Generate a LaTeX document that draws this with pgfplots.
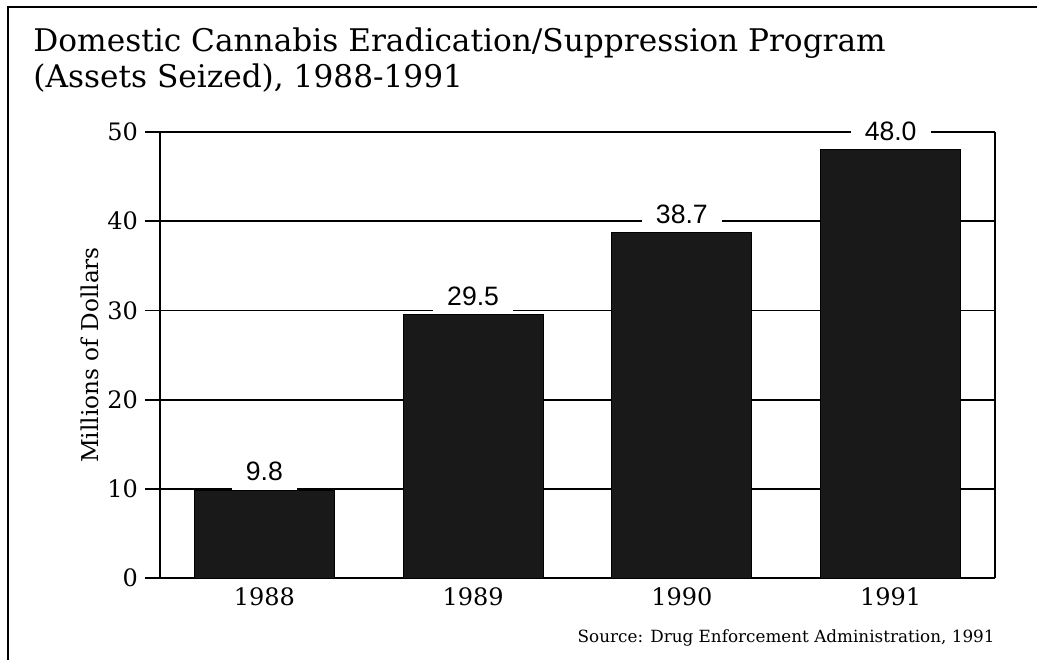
\documentclass[border=0pt]{standalone}
\usepackage{fontspec}
\setmainfont{DejaVu Serif}
\newfontfamily\valfont{Liberation Sans}
\usepackage{pgfplots}
\pgfplotsset{compat=1.18}

% 1 px of the reference = 0.5pt
\pgfplotstableread{
x year value
0 1988 9.8
1 1989 29.5
2 1990 38.7
3 1991 48.0
}\seized

\begin{document}
\begin{tikzpicture}
\path[use as bounding box] (0,0) rectangle (518.5pt,330pt);
% outer frame (top and left only)
\draw[line width=1pt] (4pt,0) -- (4pt,326.5pt) -- (518.5pt,326.5pt);
% title
\node[anchor=base west, inner sep=0pt, font=\fontsize{15.6}{18}\selectfont] at (16.5pt,304pt)
  {Domestic Cannabis Eradication/Suppression Program};
\node[anchor=base west, inner sep=0pt, font=\fontsize{15.6}{18}\selectfont] at (16.5pt,286pt)
  {(Assets Seized), 1988-1991};

\begin{axis}[
    at={(80pt,41pt)}, anchor=south west,
    scale only axis,
    width=417.5pt, height=223pt,
    xmin=-0.5, xmax=3.5,
    ymin=0, ymax=50,
    axis x line*=bottom,
    axis y line*=left,
    axis line style={line width=0.9pt},
    xtick=data,
    xticklabels={1988,1989,1990,1991},
    x tick style={draw=none},
    xticklabel style={yshift=6pt},
    ytick={0,10,20,30,40,50},
    tick align=outside,
    major tick length=7.5pt,
    y tick style={line width=0.9pt, black},
    ymajorgrids,
    grid style={line width=0.9pt, black},
    /pgf/number format/assume math mode=true,
    tick label style={font=\fontsize{12}{14}\selectfont},
    ylabel={Millions of Dollars},
    every axis y label/.style={at={(axis description cs:-0.084,0.5)}, rotate=90, anchor=center,
      font=\fontsize{11.6}{13}\selectfont},
    ybar, bar width=70pt,
    nodes near coords,
    nodes near coords style={font=\valfont\fontsize{13.3}{15}\selectfont, fill=white,
      inner xsep=7pt, inner ysep=4.5pt, anchor=south,
      /pgf/number format/.cd, fixed, fixed zerofill, precision=1},
    clip=false,
]
\addplot[fill=black!90, draw=black, line width=0.5pt] table[x=x, y=value] {\seized};
\draw[line width=0.9pt] (rel axis cs:1,0) -- (rel axis cs:1,1);
\end{axis}

\node[anchor=base east, inner sep=0pt, font=\fontsize{8.4}{10}\selectfont] at (497.5pt,9pt)
  {Source: Drug Enforcement Administration, 1991};
\end{tikzpicture}
\end{document}
